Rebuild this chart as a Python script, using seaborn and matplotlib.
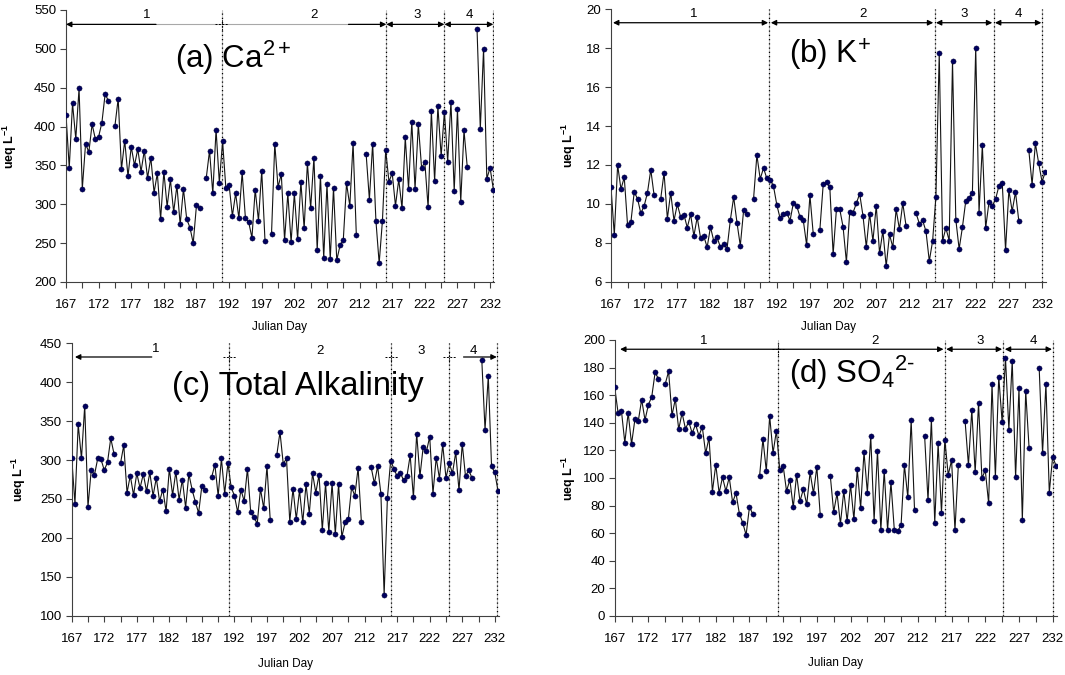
import numpy as np
import pandas as pd
import matplotlib
matplotlib.use("Agg")
import matplotlib.pyplot as plt
import seaborn as sns

nan = np.nan

# sampling days (twice-daily samples, Julian day)
days = [167 + k / 2 for k in range(132)]

ca = [415, 347, 430, 384, 449, 320, 378, 367, 403, 384,
      387, 405, 442, 433, nan, 401, 436, 345, 382, 336,
      374, 350, 371, 342, 369, 334, 360, 315, 340, 281,
      342, 297, 332, 290, 324, 274, 320, 281, 270, 250,
      299, 295, nan, 334, 369, 314, 396, 328, 381, 321,
      325, 285, 314, 282, 341, 282, 277, 257, 319, 279,
      343, 253, nan, 262, 378, 322, 339, 254, 314, 251,
      314, 255, 329, 269, 353, 295, 360, 241, 337, 231,
      326, 229, 321, 228, 247, 254, 327, 298, 379, 260,
      nan, nan, 365, 306, 378, 279, 224, 279, 370, 329,
      340, 298, 332, 295, 386, 320, 406, 320, 403, 347,
      354, 296, 420, 330, 426, 362, 419, 355, 432, 317,
      422, 303, 395, 348, nan, nan, 525, 397, 500, 333,
      347, 319]

k_ion = [10.85, 8.4, 12.0, 10.76, 11.36, 8.9, 9.07, 10.6, 10.27, 9.51,
         9.89, 10.58, 11.76, 10.44, nan, 10.27, 11.6, 9.24, 10.58, 9.14,
         9.98, 9.33, 9.45, 8.78, 9.46, 8.35, 9.31, 8.26, 8.33, 7.77,
         8.81, 8.09, 8.28, 7.77, 7.92, 7.70, 9.17, 10.35, 9.03, 7.85,
         9.67, 9.46, nan, 10.27, 12.51, 11.28, 11.84, 11.31, 11.24, 10.92,
         9.96, 9.26, 9.48, 9.55, 9.14, 10.04, 9.91, 9.33, 9.15, 7.89,
         10.44, 8.45, nan, 8.67, 11.0, 11.1, 10.85, 7.42, 9.74, 9.72,
         8.81, 7.01, 9.58, 9.55, 10.03, 10.52, 9.39, 7.78, 9.50, 8.09,
         9.91, 7.46, 8.61, 6.79, 8.43, 7.77, 9.72, 8.69, 10.04, 8.86,
         nan, nan, 9.53, 8.98, 9.15, 8.59, 7.06, 8.09, 10.37, 17.74,
         8.09, 8.76, 8.11, 17.33, 9.19, 7.68, 8.81, 10.15, 10.32, 10.56,
         18.03, 9.55, 13.01, 8.76, 10.08, 9.89, 10.25, 10.92, 11.09, 7.63,
         10.70, 9.62, 10.61, 9.12, nan, nan, 12.79, 10.99, 13.11, 12.08,
         11.14, 11.64]

alk = [303, 244, 346, 302, 370, 240, 287, 281, 302, 301,
       287, 297, 328, 308, nan, 296, 319, 258, 280, 255,
       283, 264, 282, 260, 284, 254, 277, 247, 262, 234,
       289, 255, 285, 249, 275, 239, 282, 262, 246, 232,
       267, 261, nan, 278, 294, 254, 302, 257, 296, 265,
       254, 233, 262, 247, 289, 233, 227, 218, 263, 238,
       292, 223, nan, 306, 336, 295, 302, 221, 263, 224,
       261, 220, 269, 231, 283, 258, 281, 210, 270, 208,
       270, 205, 269, 201, 220, 224, 265, 254, 290, 221,
       nan, nan, 291, 270, 292, 257, 127, 251, 299, 289,
       279, 283, 274, 279, 306, 252, 334, 279, 317, 311,
       330, 257, 303, 276, 320, 277, 296, 283, 310, 261,
       321, 279, 287, 277, nan, nan, 429, 339, 408, 292,
       284, 260]

so4 = [165.7, 147.3, 148.6, 125.6, 147.3, 124.6, 142.5, 141.3, 156.8, 142.0,
       153.1, 158.9, 176.6, 171.7, nan, 168.1, 177.3, 145.4, 157.2, 135.3,
       147.1, 135.7, 140.8, 132.4, 138.9, 130.7, 137.0, 117.9, 129.2, 90.1,
       109.7, 89.1, 100.5, 90.6, 100.5, 82.4, 89.1, 74.2, 67.6, 58.7,
       79.0, 73.9, nan, 101.2, 128.3, 105.1, 144.9, 118.1, 134.3, 105.8,
       108.9, 90.6, 98.6, 78.7, 102.4, 83.1, 92.0, 80.9, 104.1, 88.9,
       108.0, 73.4, nan, nan, 101.4, 75.4, 88.9, 66.7, 90.6, 68.6,
       95.2, 70.0, 106.3, 78.3, 118.8, 89.4, 130.2, 69.1, 119.6, 62.3,
       105.1, 62.3, 96.9, 62.3, 61.6, 65.7, 109.4, 86.0, 142.0, 76.8,
       nan, nan, 130.2, 83.8, 142.5, 67.6, 125.1, 74.9, 127.8, 102.2,
       113.0, 62.3, 109.2, 69.8, 141.5, 109.4, 149.3, 104.1, 154.1, 99.8,
       105.6, 81.6, 168.1, 100.7, 173.4, 140.6, 187.0, 135.0, 185.0, 100.5,
       165.0, 69.6, 163.0, 121.7, nan, nan, 179.7, 118.1, 168.1, 89.4,
       115.5, 108.9]
so4_line_breaks = [103, 104]   # samples not joined to the previous one

xtick_days = list(range(167, 233, 5))
period_labels = ["1", "2", "3", "4"]

sns.set_theme(style="ticks")
plt.rcParams["font.family"] = ["Liberation Sans", "DejaVu Sans"]
plt.rcParams["mathtext.fontset"] = "custom"
plt.rcParams["mathtext.rm"] = "Liberation Sans"
plt.rcParams["mathtext.it"] = "Liberation Sans:italic"
plt.rcParams["mathtext.bf"] = "Liberation Sans:bold"
for key in ["text.color", "axes.labelcolor", "xtick.labelcolor", "ytick.labelcolor"]:
    plt.rcParams[key] = "black"

fig = plt.figure(figsize=(10.65, 6.75), dpi=100)
fig.patch.set_facecolor("white")

LINE_C = "#141414"
MARK_C = "#00005e"
AX_C = "#404040"


def draw_series(ax, values, breaks=()):
    seg, segs = 0, []
    for i, v in enumerate(values):
        if np.isnan(v) or i in breaks:
            seg += 1
        segs.append(seg)
    df = pd.DataFrame({"day": days, "val": values, "seg": segs}).dropna()
    sns.lineplot(data=df, x="day", y="val", units="seg", estimator=None,
                 sort=False, color=LINE_C, lw=0.8, ax=ax, legend=False)
    sns.scatterplot(data=df, x="day", y="val", color=MARK_C, s=14,
                    edgecolor="#000030", linewidth=0.3, ax=ax, zorder=3,
                    legend=False)


def style_axes(ax, ylim, yticks, xlab_y, ylab_x):
    ax.set_xlim(167, 232.6)
    ax.set_ylim(*ylim)
    ax.set_yticks(yticks)
    ax.set_xticks(xtick_days)
    ax.set_xticks([d + 2.5 for d in xtick_days[:-1]], minor=True)
    ax.tick_params(axis="x", which="both", direction="out", length=4,
                   width=0.8, color=AX_C, pad=8.5, labelsize=9.5)
    ax.tick_params(axis="y", direction="out", length=4, width=0.8,
                   color=AX_C, pad=3, labelsize=9.5)
    for s in ["left", "bottom"]:
        ax.spines[s].set_color(AX_C)
        ax.spines[s].set_linewidth(0.8)
    sns.despine(ax=ax)
    ax.set_xlabel("Julian Day", fontsize=8.5)
    ax.xaxis.set_label_coords(0.5, xlab_y)
    ax.set_ylabel(r"ueq L$^{\mathbf{-1}}$", fontsize=9, fontweight="bold")
    ax.yaxis.set_label_coords(ylab_x, 0.5)


def bounds_lines(ax, bounds):
    for b in bounds:
        ax.axvline(b, color="#c4c4c4", lw=0.8, zorder=1)
        ax.axvline(b, color="black", lw=0.9, ls=(0, (1, 2.4)), zorder=1)


def arrow(ax, x0, x1, y, style):
    ax.annotate("", xy=(x1, y), xytext=(x0, y),
                arrowprops=dict(arrowstyle=style, color="black", lw=0.9,
                                shrinkA=0, shrinkB=0, mutation_scale=8),
                annotation_clip=False)


def cross(ax, x, yfrac):
    tr = ax.get_xaxis_transform()
    ax.plot([x - 1.0, x + 1.0], [yfrac, yfrac], transform=tr, color="black",
            lw=0.7, ls=(0, (2, 1.5)), clip_on=False)
    ax.plot([x, x], [yfrac - 0.02, yfrac + 0.02], transform=tr, color="black",
            lw=0.7, ls=(0, (1.5, 1.5)), clip_on=False)


def period_text(ax, xs, ys):
    for lab, x, y in zip(period_labels, xs, ys):
        ax.text(x, y, lab, ha="center", va="center", fontsize=9.5)


# ---------- (a) Ca2+
axa = fig.add_axes([66 / 1065, 1 - 282 / 675, 428 / 1065, 272 / 675])
draw_series(axa, ca)
style_axes(axa, (200, 550), range(200, 551, 50), -0.145, -0.11)
bounds_lines(axa, [190.9, 216.1, 225.0, 232.5])
arrow(axa, 167, 180.8, 531.5, "<|-")
axa.plot([180.8, 210.3], [531.5, 531.5], color="#a8a8a8", lw=0.8)
arrow(axa, 210.3, 216.1, 531.5, "-|>")
cross(axa, 190.9, (531.5 - 200) / 350)
arrow(axa, 216.1, 225.0, 531.5, "<|-|>")
arrow(axa, 225.0, 232.5, 531.5, "<|-|>")
period_text(axa, [179.4, 205.0, 220.8, 228.8], [543, 543, 543, 543])
axa.text(0.255, 0.787, r"(a) Ca$^{2+}$", transform=axa.transAxes,
         ha="left", va="baseline", fontsize=22.5)

# ---------- (b) K+
axb = fig.add_axes([611 / 1065, 1 - 281.7 / 675, 435 / 1065, 272.4 / 675])
draw_series(axb, k_ion)
style_axes(axb, (6, 20), range(6, 21, 2), -0.145, -0.076)
bounds_lines(axb, [190.9, 215.8, 224.7, 232.0])
arrow(axb, 167.3, 190.7, 19.31, "<|-|>")
arrow(axb, 191.1, 215.6, 19.31, "<|-|>")
arrow(axb, 216.0, 224.5, 19.31, "<|-|>")
arrow(axb, 224.9, 231.9, 19.31, "<|-|>")
period_text(axb, [179.4, 205.0, 220.3, 228.5], [19.76] * 4)
axb.text(0.409, 0.80, r"(b) K$^{+}$", transform=axb.transAxes,
         ha="left", va="baseline", fontsize=22.5)

# ---------- (c) Total Alkalinity
axc = fig.add_axes([71.7 / 1065, 1 - 615.7 / 675, 427 / 1065, 272.4 / 675])
draw_series(axc, alk)
style_axes(axc, (100, 450), range(100, 451, 50), -0.155, -0.102)
bounds_lines(axc, [191.2, 216.1, 225.0, 232.4])
arrow(axc, 167.5, 179.3, 432.4, "<|-")
for bx in [191.2, 216.1, 225.0]:
    cross(axc, bx, (432.4 - 100) / 350)
arrow(axc, 227.2, 232.3, 432.4, "-|>")
period_text(axc, [179.9, 205.2, 220.7, 228.7], [442.3, 440.5, 440.5, 440.5])
axc.text(0.235, 0.81, "(c) Total Alkalinity", transform=axc.transAxes,
         ha="left", va="baseline", fontsize=23.5)

# ---------- (d) SO4 2-
axd = fig.add_axes([614.7 / 1065, 1 - 616 / 675, 442 / 1065, 276 / 675])
draw_series(axd, so4, so4_line_breaks)
style_axes(axd, (0, 200), range(0, 201, 20), -0.15, -0.083)
bounds_lines(axd, [191.3, 216.0, 224.7, 232.1])
arrow(axd, 167.8, 215.8, 193.3, "<|-|>")
cross(axd, 191.3, 193.3 / 200)
arrow(axd, 216.2, 224.5, 193.3, "<|-|>")
arrow(axd, 224.9, 231.9, 193.3, "<|-|>")
period_text(axd, [180.2, 205.6, 221.3, 229.2], [199.0] * 4)
axd.text(0.394, 0.845, r"(d) SO$_4{}^{2\text{-}}$", transform=axd.transAxes,
         ha="left", va="baseline", fontsize=22.5)

fig.savefig("out.png", dpi=100, facecolor="white")
